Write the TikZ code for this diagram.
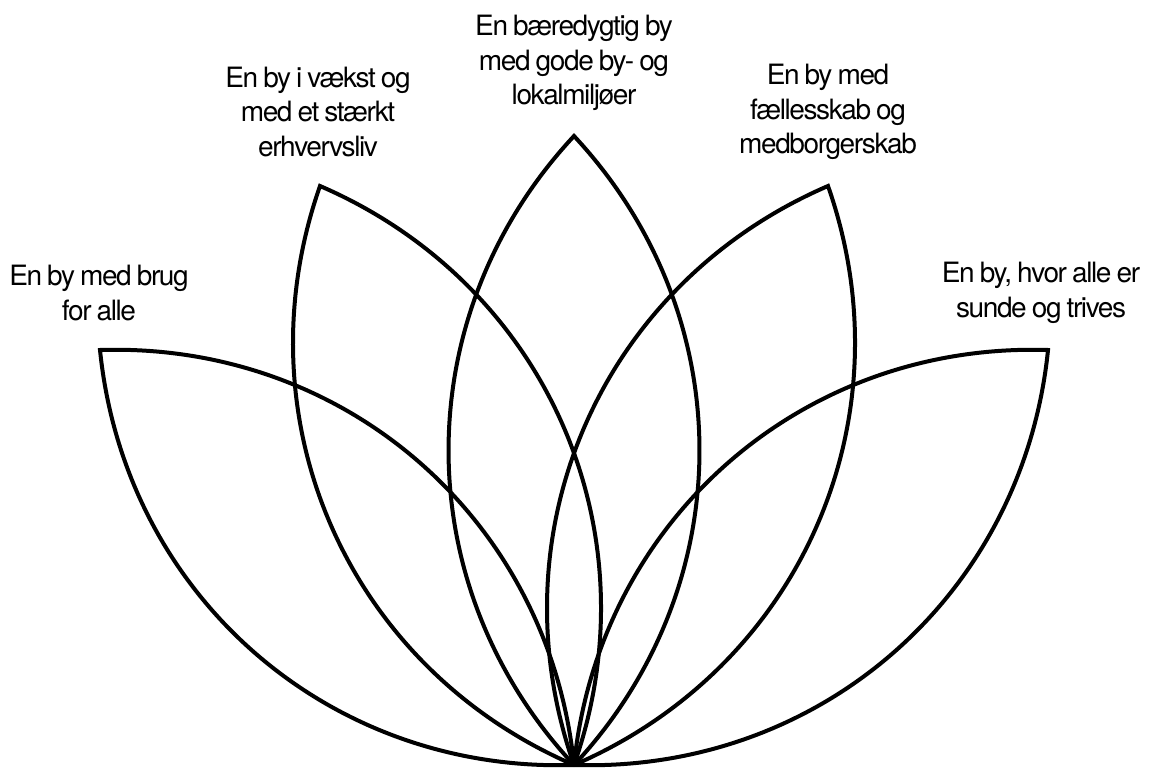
\documentclass[tikz,border=0pt]{standalone}
\usepackage{fontspec}
\setmainfont[LetterSpace=-5,WordSpace=0.8]{TeX Gyre Heros}
\begin{document}
\begin{tikzpicture}[x=0.5pt,y=-0.5pt,
  petal/.style={line width=2pt,line join=miter,black},
  lbl/.style={align=center,inner sep=0pt,font=\fontsize{14}{17.2}\selectfont}]
\useasboundingbox (0,0) rectangle (1149,769);
\coordinate (B) at (574,765);
\coordinate (T1) at (100,350);
\coordinate (T2) at (320,186);
\coordinate (T3) at (574,136);
\coordinate (T4) at (828,186);
\coordinate (T5) at (1048,350);
\foreach \t in {T1,T2,T3,T4,T5}{
  \draw[petal] (B) to[bend left=43] (\t) to[bend left=43] (B);
}
\node[lbl] (L1) at (99,293) {En by med brug\\for alle};
\node[lbl] (L2) at (318,112) {En by i vækst og\\med et stærkt\\erhvervsliv};
\node[lbl] (L3) at (574,63) {En bæredygtig by\\med gode by- og\\lokalmiljøer};
\node[lbl] (L4) at (828,112) {En by med\\fællesskab og\\medborgerskab};
\node[lbl] (L5) at (1041,293) {En by, hvor alle er\\sunde og trives};
\end{tikzpicture}
\end{document}
